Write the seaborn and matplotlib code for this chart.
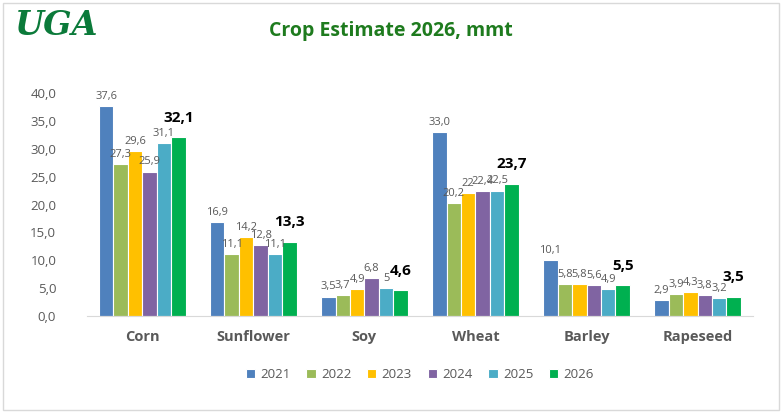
import pandas as pd
import numpy as np
import matplotlib.pyplot as plt
import seaborn as sns
from matplotlib.patches import Rectangle

# Crop estimates, million metric tons
crops = ["Corn", "Sunflower", "Soy", "Wheat", "Barley", "Rapeseed"]
years = ["2021", "2022", "2023", "2024", "2025", "2026"]

y2021 = [37.6, 16.9, 3.5, 33.0, 10.1, 2.9]
y2022 = [27.3, 11.1, 3.7, 20.2, 5.8, 3.9]
y2023 = [29.6, 14.2, 4.9, 22.0, 5.8, 4.3]
y2024 = [25.9, 12.8, 6.8, 22.4, 5.6, 3.8]
y2025 = [31.1, 11.1, 5.0, 22.5, 4.9, 3.2]
y2026 = [32.1, 13.3, 4.6, 23.7, 5.5, 3.5]

# label text as printed in the chart
labels2021 = ["37,6", "16,9", "3,5", "33,0", "10,1", "2,9"]
labels2022 = ["27,3", "11,1", "3,7", "20,2", "5,8", "3,9"]
labels2023 = ["29,6", "14,2", "4,9", "22", "5,8", "4,3"]
labels2024 = ["25,9", "12,8", "6,8", "22,4", "5,6", "3,8"]
labels2025 = ["31,1", "11,1", "5", "22,5", "4,9", "3,2"]
labels2026 = ["32,1", "13,3", "4,6", "23,7", "5,5", "3,5"]

yticks = [0, 5, 10, 15, 20, 25, 30, 35, 40]

series = [y2021, y2022, y2023, y2024, y2025, y2026]
all_labels = [labels2021, labels2022, labels2023, labels2024, labels2025, labels2026]

rows = []
for yr, vals in zip(years, series):
    for crop, v in zip(crops, vals):
        rows.append({"crop": crop, "year": yr, "value": v})
df = pd.DataFrame(rows)

colors = ["#4F81BD", "#9BBB59", "#FFC000", "#8064A2", "#4BACC6", "#00B050"]

sns.set_style("white")
plt.rcParams['font.family'] = ['Open Sans', 'DejaVu Sans']

fig = plt.figure(figsize=(7.82, 4.18), dpi=100)
ax = fig.add_axes([0.111, 0.244, 0.852, 0.60])

sns.barplot(data=df, x="crop", y="value", hue="year", palette=colors,
            saturation=1, width=0.78, edgecolor="white", linewidth=0.8,
            order=crops, hue_order=years, ax=ax)

# data labels (last year bold, lifted and a bit to the right, like the original)
for i, cont in enumerate(ax.containers):
    if i == len(ax.containers) - 1:
        texts = ax.bar_label(cont, labels=all_labels[i], padding=9, fontsize=11,
                             fontweight="bold", color="black")
        for t in texts:
            t.set_x(t.get_position()[0] + 0.07)
    else:
        ax.bar_label(cont, labels=all_labels[i], padding=3, fontsize=8,
                     color="#595959")

ax.set_ylim(0, 45)
ax.set_xlim(-0.5, 5.5)
ax.set_yticks(yticks)
ax.set_yticklabels([f"{t:.1f}".replace(".", ",") for t in yticks],
                   fontsize=9.5, color="#595959")
ax.tick_params(axis="x", length=0, pad=10)
ax.tick_params(axis="y", length=0, pad=22)
for lbl in ax.get_xticklabels():
    lbl.set_fontweight("bold")
    lbl.set_fontsize(10.5)
    lbl.set_color("#595959")
ax.set_xlabel("")
ax.set_ylabel("")
sns.despine(ax=ax, left=True)
ax.spines["bottom"].set_color("#D9D9D9")

ax.legend(loc="upper center", bbox_to_anchor=(0.5, -0.16), ncol=6,
          frameon=False, fontsize=9.5, handlelength=0.7, handleheight=0.7,
          columnspacing=1.2, handletextpad=0.4, labelcolor="#595959")

fig.text(0.5, 0.925, "Crop Estimate 2026, mmt", ha="center", va="center",
         fontsize=14, fontweight="bold", color="#1E7B1E")
fig.text(0.018, 0.94, "UGA", ha="left", va="center", fontsize=24,
         fontweight="bold", fontstyle="italic", color="#0B7A3A",
         family="DejaVu Serif")

fig.patches.append(Rectangle((0.004, 0.018), 0.992, 0.975, transform=fig.transFigure,
                             fill=False, edgecolor="#D9D9D9", linewidth=1))

fig.savefig("out.png", dpi=100)
